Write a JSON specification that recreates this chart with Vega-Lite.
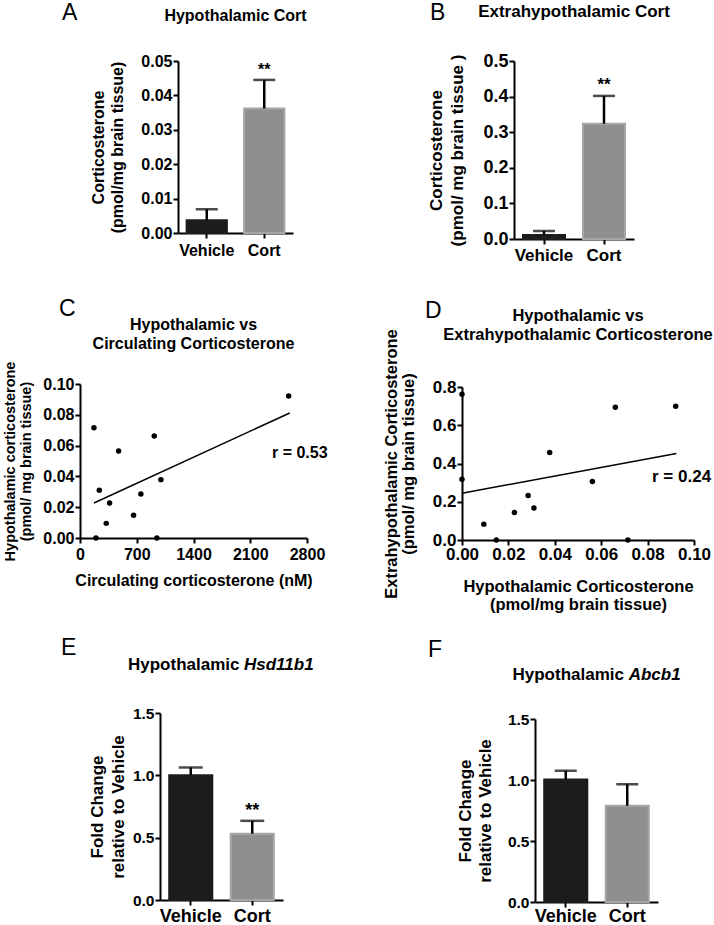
{
  "$schema": "https://vega.github.io/schema/vega-lite/v6.json",
  "padding": 0,
  "background": "white",
  "spacing": 0,
  "bounds": "flush",
  "datasets": {
    "barsA": [
      {"group": "Vehicle", "mean": 0.0037, "upper": 0.0069, "sig": ""},
      {"group": "Cort", "mean": 0.0362, "upper": 0.0445, "sig": "**"}
    ],
    "barsB": [
      {"group": "Vehicle", "mean": 0.011, "upper": 0.0225, "sig": ""},
      {"group": "Cort", "mean": 0.324, "upper": 0.402, "sig": "**"}
    ],
    "barsE": [
      {"group": "Vehicle", "mean": 1.0, "upper": 1.063, "sig": ""},
      {"group": "Cort", "mean": 0.532, "upper": 0.635, "sig": "**"}
    ],
    "barsF": [
      {"group": "Vehicle", "mean": 1.005, "upper": 1.076, "sig": ""},
      {"group": "Cort", "mean": 0.789, "upper": 0.965, "sig": ""}
    ],
    "scatterC": [
      {"x": 2574, "y": 0.0922}, {"x": 172, "y": 0.0716}, {"x": 916, "y": 0.0662},
      {"x": 476, "y": 0.0565}, {"x": 998, "y": 0.0379}, {"x": 238, "y": 0.031},
      {"x": 751, "y": 0.0286}, {"x": 365, "y": 0.0227}, {"x": 661, "y": 0.0147},
      {"x": 324, "y": 0.0095}, {"x": 197, "y": 0}, {"x": 948, "y": 0}
    ],
    "lineC": [{"x": 172, "y": 0.0227}, {"x": 2587, "y": 0.0812}],
    "rC": [{"x": 2368, "y": 0.052, "label": "r = 0.53"}],
    "scatterD": [
      {"x": 0, "y": 0.762}, {"x": 0.0921, "y": 0.699}, {"x": 0.0661, "y": 0.694},
      {"x": 0.0378, "y": 0.457}, {"x": 0.0562, "y": 0.306}, {"x": 0, "y": 0.318},
      {"x": 0.0285, "y": 0.233}, {"x": 0.031, "y": 0.167}, {"x": 0.0226, "y": 0.144},
      {"x": 0.0094, "y": 0.083}, {"x": 0.0148, "y": 0}, {"x": 0.0715, "y": 0}
    ],
    "lineD": [{"x": 0, "y": 0.245}, {"x": 0.0924, "y": 0.452}],
    "rD": [{"x": 0.0819, "y": 0.303, "label": "r = 0.24"}]
  },
  "vconcat": [
    {"width": 1, "height": 61, "data": {"values": []}, "mark": "point"},
    {
      "spacing": 0, "bounds": "flush",
      "hconcat": [
        {"width": 62, "height": 1, "data": {"values": []}, "mark": "point"},
        {"width": 116, "height": 1, "data": {"values": []}, "mark": "point",
         "title": {"text": "A", "anchor": "start", "fontSize": 23, "fontWeight": "normal", "offset": 35.7}},
        {
          "width": 115, "height": 172,
          "title": {"text": "Hypothalamic Cort", "fontSize": 16, "offset": 29.5},
          "data": {"name": "barsA"},
          "resolve": {"axis": {"y": "independent"}},
          "encoding": {
            "x": {"field": "group", "type": "nominal", "sort": ["Vehicle", "Cort"],
                  "scale": {"paddingInner": 0.3, "paddingOuter": 0.15},
                  "axis": {"title": null, "labelAngle": 0, "labelFontSize": 16, "labelPadding": 4}}
          },
          "layer": [
            {"mark": {"type": "bar", "strokeWidth": 2},
             "encoding": {
               "y": {"field": "mean", "type": "quantitative", "scale": {"domain": [0, 0.05], "nice": false},
                     "axis": {"title": ["Corticosterone", "(pmol/mg brain tissue)"], "values": [0, 0.01, 0.02, 0.03, 0.04, 0.05], "format": ".2f",
                              "labelFontSize": 16, "titleFontSize": 16, "titleLineHeight": 19, "titlePadding": 15}},
               "color": {"field": "group", "type": "nominal", "scale": {"domain": ["Vehicle", "Cort"], "range": ["#1c1c1c", "#8f8f8f"]}, "legend": null},
               "stroke": {"field": "group", "type": "nominal", "scale": {"domain": ["Vehicle", "Cort"], "range": ["#1c1c1c", "#a6a6a6"]}, "legend": null}
             }},
            {"mark": {"type": "rule", "color": "black", "strokeWidth": 2.5},
             "encoding": {"y": {"field": "mean", "type": "quantitative", "axis": null}, "y2": {"field": "upper"}}},
            {"mark": {"type": "tick", "color": "black", "size": 22, "thickness": 2.5},
             "encoding": {"y": {"field": "upper", "type": "quantitative", "axis": null}}},
            {"mark": {"type": "text", "baseline": "alphabetic", "dy": -5, "fontSize": 16, "fontWeight": "bold", "color": "black"},
             "encoding": {"y": {"field": "upper", "type": "quantitative", "axis": null}, "text": {"field": "sig"}}}
          ]
        },
        {"width": 137, "height": 1, "data": {"values": []}, "mark": "point"},
        {"width": 84, "height": 1, "data": {"values": []}, "mark": "point",
         "title": {"text": "B", "anchor": "start", "fontSize": 23, "fontWeight": "normal", "offset": 35.7}},
        {
          "width": 120, "height": 178,
          "title": {"text": "Extrahypothalamic Cort", "fontSize": 17, "offset": 31.4},
          "data": {"name": "barsB"},
          "resolve": {"axis": {"y": "independent"}},
          "encoding": {
            "x": {"field": "group", "type": "nominal", "sort": ["Vehicle", "Cort"],
                  "scale": {"paddingInner": 0.3, "paddingOuter": 0.15},
                  "axis": {"title": null, "labelAngle": 0, "labelFontSize": 17, "labelPadding": 3}}
          },
          "layer": [
            {"mark": {"type": "bar", "strokeWidth": 2},
             "encoding": {
               "y": {"field": "mean", "type": "quantitative", "scale": {"domain": [0, 0.5], "nice": false},
                     "axis": {"title": ["Corticosterone", "(pmol/ mg brain tissue )"], "values": [0, 0.1, 0.2, 0.3, 0.4, 0.5], "format": ".1f",
                              "labelFontSize": 18, "titleFontSize": 17, "titleLineHeight": 21, "titlePadding": 16.6}},
               "color": {"field": "group", "type": "nominal", "scale": {"domain": ["Vehicle", "Cort"], "range": ["#1c1c1c", "#8f8f8f"]}, "legend": null},
               "stroke": {"field": "group", "type": "nominal", "scale": {"domain": ["Vehicle", "Cort"], "range": ["#1c1c1c", "#a6a6a6"]}, "legend": null}
             }},
            {"mark": {"type": "rule", "color": "black", "strokeWidth": 2.5},
             "encoding": {"y": {"field": "mean", "type": "quantitative", "axis": null}, "y2": {"field": "upper"}}},
            {"mark": {"type": "tick", "color": "black", "size": 22, "thickness": 2.5},
             "encoding": {"y": {"field": "upper", "type": "quantitative", "axis": null}}},
            {"mark": {"type": "text", "baseline": "alphabetic", "dy": -6, "fontSize": 17, "fontWeight": "bold", "color": "black"},
             "encoding": {"y": {"field": "upper", "type": "quantitative", "axis": null}, "text": {"field": "sig"}}}
          ]
        }
      ]
    },
    {"width": 1, "height": 323, "data": {"values": []}, "mark": "point"},
    {
      "spacing": 0, "bounds": "flush",
      "hconcat": [
        {"width": 59, "height": 1, "data": {"values": []}, "mark": "point"},
        {"width": 21, "height": 1, "data": {"values": []}, "mark": "point",
         "title": {"text": "C", "anchor": "start", "fontSize": 23, "fontWeight": "normal", "offset": 63.4}},
        {
          "width": 227, "height": 154,
          "title": {"text": ["Hypothalamic vs", "Circulating Corticosterone"], "fontSize": 16, "lineHeight": 19.5, "offset": 8.6},
          "resolve": {"axis": {"x": "independent", "y": "independent"}},
          "layer": [
            {"data": {"name": "scatterC"},
             "mark": {"type": "point", "filled": true, "color": "black", "size": 30, "opacity": 1},
             "encoding": {
               "x": {"field": "x", "type": "quantitative", "scale": {"domain": [0, 2800], "nice": false},
                     "axis": {"title": "Circulating corticosterone (nM)", "values": [0, 700, 1400, 2100, 2800], "format": "d",
                              "labelFontSize": 16, "titleFontSize": 16, "labelPadding": 3, "titlePadding": 10}},
               "y": {"field": "y", "type": "quantitative", "scale": {"domain": [0, 0.1], "nice": false},
                     "axis": {"title": ["Hypothalamic corticosterone", "(pmol/ mg brain tissue)"], "values": [0, 0.02, 0.04, 0.06, 0.08, 0.1], "format": ".2f",
                              "labelFontSize": 16, "titleFontSize": 14.5, "titleLineHeight": 16, "titlePadding": 9.7}}
             }},
            {"data": {"name": "lineC"},
             "mark": {"type": "line", "color": "black", "strokeWidth": 1.5},
             "encoding": {"x": {"field": "x", "type": "quantitative", "axis": null}, "y": {"field": "y", "type": "quantitative", "axis": null}}},
            {"data": {"name": "rC"},
             "mark": {"type": "text", "align": "left", "baseline": "alphabetic", "fontSize": 16, "fontWeight": "bold", "color": "black"},
             "encoding": {"x": {"field": "x", "type": "quantitative", "axis": null}, "y": {"field": "y", "type": "quantitative", "axis": null}, "text": {"field": "label"}}}
          ]
        },
        {"width": 118, "height": 1, "data": {"values": []}, "mark": "point"},
        {"width": 37, "height": 1, "data": {"values": []}, "mark": "point",
         "title": {"text": "D", "anchor": "start", "fontSize": 23, "fontWeight": "normal", "offset": 61.4}},
        {
          "spacing": 0, "bounds": "flush",
          "vconcat": [
            {"width": 232, "height": 3, "data": {"values": []}, "mark": "point"},
            {
              "width": 232, "height": 153,
              "title": {"text": ["Hypothalamic vs", "Extrahypothalamic Corticosterone"], "fontSize": 16.5, "lineHeight": 19, "offset": 0, "dy": 15},
              "resolve": {"axis": {"x": "independent", "y": "independent"}},
              "layer": [
                {"data": {"name": "scatterD"},
                 "mark": {"type": "point", "filled": true, "color": "black", "size": 30, "opacity": 1},
                 "encoding": {
                   "x": {"field": "x", "type": "quantitative", "scale": {"domain": [0, 0.1], "nice": false},
                         "axis": {"title": ["Hypothalamic Corticosterone", "(pmol/mg brain tissue)"], "values": [0, 0.02, 0.04, 0.06, 0.08, 0.1], "format": ".2f",
                                  "labelFontSize": 17, "titleFontSize": 16.5, "titleLineHeight": 18.5, "labelPadding": 1, "titlePadding": 16}},
                   "y": {"field": "y", "type": "quantitative", "scale": {"domain": [0, 0.8], "nice": false},
                         "axis": {"title": ["Extrahypothalamic Corticosterone", "(pmol/ mg brain tissue)"], "values": [0, 0.2, 0.4, 0.6, 0.8], "format": ".1f",
                                  "labelFontSize": 17, "titleFontSize": 16.5, "titleLineHeight": 17, "titlePadding": 16}}
                 }},
                {"data": {"name": "lineD"},
                 "mark": {"type": "line", "color": "black", "strokeWidth": 1.5},
                 "encoding": {"x": {"field": "x", "type": "quantitative", "axis": null}, "y": {"field": "y", "type": "quantitative", "axis": null}}},
                {"data": {"name": "rD"},
                 "mark": {"type": "text", "align": "left", "baseline": "alphabetic", "fontSize": 17, "fontWeight": "bold", "color": "black"},
                 "encoding": {"x": {"field": "x", "type": "quantitative", "axis": null}, "y": {"field": "y", "type": "quantitative", "axis": null}, "text": {"field": "label"}}}
              ]
            }
          ]
        }
      ]
    },
    {"width": 1, "height": 329, "data": {"values": []}, "mark": "point"},
    {
      "spacing": 0, "bounds": "flush",
      "hconcat": [
        {"width": 61, "height": 1, "data": {"values": []}, "mark": "point"},
        {"width": 99, "height": 1, "data": {"values": []}, "mark": "point",
         "title": {"text": "E", "anchor": "start", "fontSize": 23, "fontWeight": "normal", "offset": 53.4}},
        {
          "width": 123, "height": 187,
          "title": {"text": "Hypothalamic", "anchor": "start", "dx": -32, "fontSize": 17, "offset": 31.65},
          "data": {"name": "barsE"},
          "resolve": {"axis": {"y": "independent"}},
          "encoding": {
            "x": {"field": "group", "type": "nominal", "sort": ["Vehicle", "Cort"],
                  "scale": {"paddingInner": 0.3, "paddingOuter": 0.15},
                  "axis": {"title": null, "labelAngle": 0, "labelFontSize": 18, "labelPadding": 2}}
          },
          "layer": [
            {"mark": {"type": "bar", "strokeWidth": 2},
             "encoding": {
               "y": {"field": "mean", "type": "quantitative", "scale": {"domain": [0, 1.5], "nice": false},
                     "axis": {"title": ["Fold Change", "relative to Vehicle"], "values": [0, 0.5, 1, 1.5], "format": ".1f",
                              "labelFontSize": 15.5, "titleFontSize": 17, "titleLineHeight": 21, "titlePadding": 5}},
               "color": {"field": "group", "type": "nominal", "scale": {"domain": ["Vehicle", "Cort"], "range": ["#1c1c1c", "#8f8f8f"]}, "legend": null},
               "stroke": {"field": "group", "type": "nominal", "scale": {"domain": ["Vehicle", "Cort"], "range": ["#1c1c1c", "#a6a6a6"]}, "legend": null}
             }},
            {"mark": {"type": "rule", "color": "black", "strokeWidth": 2.5},
             "encoding": {"y": {"field": "mean", "type": "quantitative", "axis": null}, "y2": {"field": "upper"}}},
            {"mark": {"type": "tick", "color": "black", "size": 24, "thickness": 2.5},
             "encoding": {"y": {"field": "upper", "type": "quantitative", "axis": null}}},
            {"mark": {"type": "text", "baseline": "alphabetic", "dy": -5, "fontSize": 18, "fontWeight": "bold", "color": "black"},
             "encoding": {"y": {"field": "upper", "type": "quantitative", "axis": null}, "text": {"field": "sig"}}}
          ]
        },
        {"width": 145, "height": 1, "data": {"values": []}, "mark": "point",
         "title": {"text": "Hsd11b1", "anchor": "start", "dx": -39, "fontSize": 17, "fontStyle": "italic", "offset": 39.4}},
        {"width": 107, "height": 1, "data": {"values": []}, "mark": "point",
         "title": {"text": "F", "anchor": "start", "fontSize": 23, "fontWeight": "normal", "offset": 51.4}},
        {
          "spacing": 0, "bounds": "flush",
          "vconcat": [
            {"width": 123, "height": 6, "data": {"values": []}, "mark": "point"},
            {
              "width": 123, "height": 183,
              "title": {"text": "Hypothalamic", "anchor": "start", "dx": -22.5, "fontSize": 17, "offset": 27.65},
              "data": {"name": "barsF"},
              "resolve": {"axis": {"y": "independent"}},
              "encoding": {
                "x": {"field": "group", "type": "nominal", "sort": ["Vehicle", "Cort"],
                      "scale": {"paddingInner": 0.3, "paddingOuter": 0.15},
                      "axis": {"title": null, "labelAngle": 0, "labelFontSize": 18, "labelPadding": 0}}
              },
              "layer": [
                {"mark": {"type": "bar", "strokeWidth": 2},
                 "encoding": {
                   "y": {"field": "mean", "type": "quantitative", "scale": {"domain": [0, 1.5], "nice": false},
                         "axis": {"title": ["Fold Change", "relative to Vehicle"], "values": [0, 0.5, 1, 1.5], "format": ".1f",
                                  "labelFontSize": 15.5, "titleFontSize": 17, "titleLineHeight": 19.5, "titlePadding": 13.4}},
                   "color": {"field": "group", "type": "nominal", "scale": {"domain": ["Vehicle", "Cort"], "range": ["#1c1c1c", "#8f8f8f"]}, "legend": null},
                   "stroke": {"field": "group", "type": "nominal", "scale": {"domain": ["Vehicle", "Cort"], "range": ["#1c1c1c", "#a6a6a6"]}, "legend": null}
                 }},
                {"mark": {"type": "rule", "color": "black", "strokeWidth": 2.5},
                 "encoding": {"y": {"field": "mean", "type": "quantitative", "axis": null}, "y2": {"field": "upper"}}},
                {"mark": {"type": "tick", "color": "black", "size": 22, "thickness": 2.5},
                 "encoding": {"y": {"field": "upper", "type": "quantitative", "axis": null}}}
              ]
            }
          ]
        },
        {"width": 123, "height": 1, "data": {"values": []}, "mark": "point"},
        {"width": 1, "height": 1, "data": {"values": []}, "mark": "point",
         "title": {"text": "Abcb1", "anchor": "start", "dx": -29.3, "fontSize": 17, "fontStyle": "italic", "offset": 29.4}}
      ]
    }
  ],
  "config": {
    "font": "Liberation Sans",
    "view": {"stroke": null},
    "axis": {
      "grid": false,
      "domainColor": "black", "domainWidth": 2,
      "tickColor": "black", "tickWidth": 2, "tickSize": 5,
      "labelColor": "black", "labelFontWeight": "bold", "labelPadding": 1, "labelFlush": false, "labelOverlap": false,
      "titleColor": "black", "titleFontWeight": "bold"
    },
    "title": {"color": "black", "fontWeight": "bold", "anchor": "middle", "frame": "group"}
  }
}
